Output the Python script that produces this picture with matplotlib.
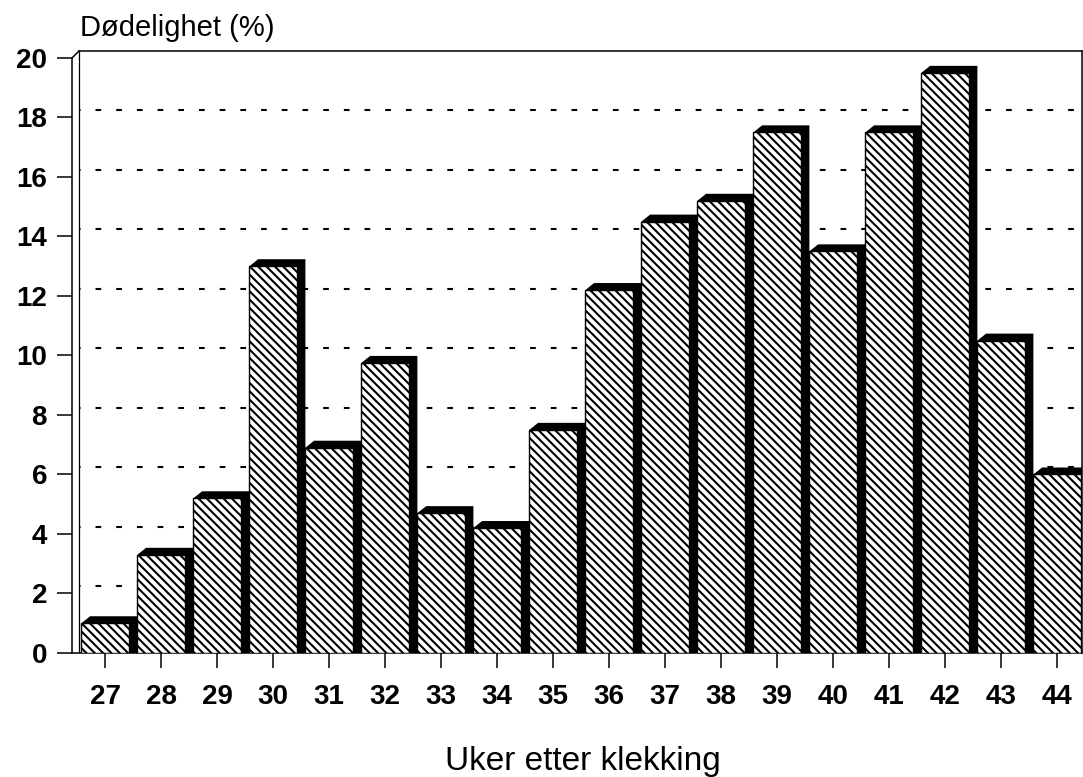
import matplotlib
matplotlib.use("Agg")
import matplotlib.pyplot as plt
import numpy as np

plt.rcParams['font.family'] = ['Liberation Sans', 'DejaVu Sans']
plt.rcParams['hatch.linewidth'] = 1.5
plt.rcParams['lines.scale_dashes'] = False

# uke etter klekking og dødelighet i prosent
weeks = np.arange(27, 45)
mortality = [1.0, 3.3, 5.2, 13.0, 6.9, 9.75, 4.7, 4.2, 7.5,
             12.2, 14.5, 15.2, 17.5, 13.5, 17.5, 19.5, 10.5, 6.0]
yticks = np.arange(0, 21, 2)

w = 0.845     # bredde på forsiden av søylen
dx = 0.155    # 3D-dybde i x
dy = 0.235    # 3D-dybde i y
x0, x1 = 26.41, 44.446

fig = plt.figure(figsize=(10.83, 7.77), dpi=100)
ax = fig.add_axes([0.0665, 0.1596, 0.9326, 0.7748])
ax.set_xlim(x0, x1)
ax.set_ylim(0, 20 + dy)

# stiplede hjelpelinjer på bakveggen
ax.hlines(yticks[1:-1] + dy, x0 + 0.125, x1, colors='black', linewidth=1.5,
          linestyles=(3, (4.1, 10.8)), zorder=1)

# bakvegg: venstre kant og skråkant opp mot toppen
ax.plot([x0 + 0.125, x0 + 0.125], [0, 20 + dy], color='black', lw=0.9, zorder=1)
ax.plot([x0, x0 + 0.125], [20, 20 + dy], color='black', lw=1.1, zorder=1,
        clip_on=False)

# skygge (dybde) bak hver søyle
for x, v in zip(weeks, mortality):
    left = x - w / 2
    right = x + w / 2
    ax.fill([left, left, left + dx, right + dx, right + dx],
            [0, v, v + dy, v + dy, 0], color='black', lw=0, zorder=2)

ax.bar(weeks, mortality, width=w, color='white', edgecolor='black',
       hatch='\\\\\\\\', linewidth=1.0, zorder=3)

for side in ['left', 'bottom', 'top', 'right']:
    ax.spines[side].set_linewidth(1.1)
ax.spines['left'].set_bounds(0, 20)
ax.spines['top'].set_bounds(x0 + 0.125, x1)

ax.set_xticks(weeks)
ax.set_xticklabels([str(x) for x in weeks])
ax.set_yticks(yticks)
ax.set_yticklabels([str(t) for t in yticks])
ax.tick_params(axis='x', direction='out', length=11, width=1.1, pad=11,
               labelsize=20)
ax.tick_params(axis='y', direction='out', length=11, width=1.1, pad=7,
               labelsize=20)
for lab in ax.get_xticklabels() + ax.get_yticklabels():
    lab.set_fontweight('bold')

fig.text(0.074, 0.964, 'Dødelighet (%)', fontsize=21, ha='left', va='center')
fig.text(0.538, 0.009, 'Uker etter klekking', fontsize=24, ha='center',
         va='baseline')

fig.savefig('out.png', dpi=100)
